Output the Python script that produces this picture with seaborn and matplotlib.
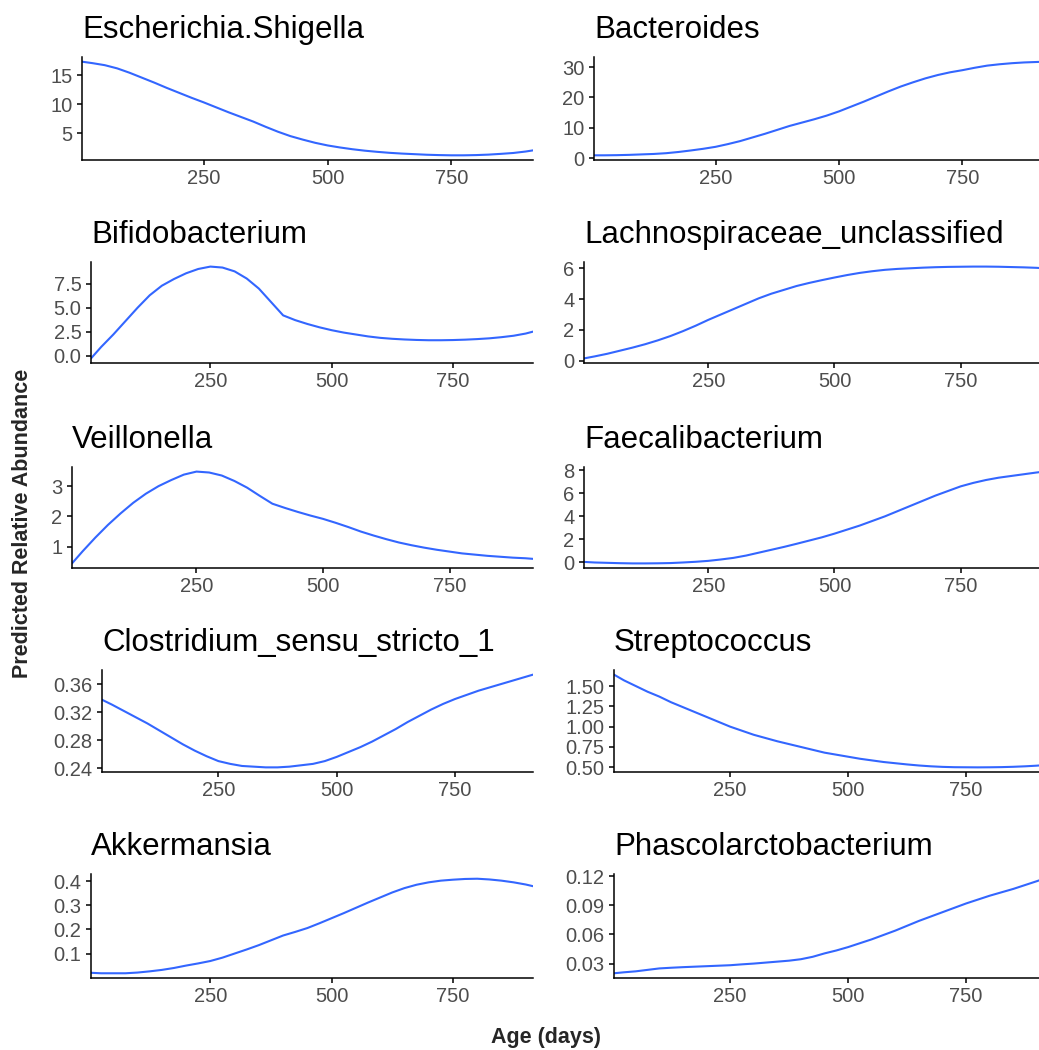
import matplotlib
matplotlib.use("Agg")
from matplotlib import pyplot as plt
import seaborn as sns

# age grid (days) the smoothed predictions were read at
age_days = [4] + list(range(25, 901, 25)) + [915]

escherichia = [17.3, 17.05, 16.7, 16.15, 15.4, 14.55, 13.7, 12.8, 11.95, 11.1, 10.3, 9.45, 8.6, 7.8, 7.0, 6.1,
               5.25, 4.5, 3.9, 3.35, 2.9, 2.55, 2.25, 2.0, 1.8, 1.63, 1.5, 1.4, 1.3, 1.24, 1.2, 1.2,
               1.24, 1.32, 1.45, 1.6, 1.85, 2.05]
bacteroides = [0.9, 0.9, 0.95, 1.05, 1.2, 1.35, 1.6, 2.0, 2.5, 3.05, 3.7, 4.6, 5.6, 6.8, 8.0, 9.3,
               10.6, 11.7, 12.8, 14.0, 15.4, 17.0, 18.6, 20.3, 22.0, 23.6, 25.0, 26.3, 27.4, 28.3, 29.0, 29.8,
               30.5, 30.95, 31.3, 31.55, 31.7, 31.8]
bifidobacterium = [-0.3, 0.9, 2.2, 3.6, 5.0, 6.3, 7.3, 8.0, 8.6, 9.05, 9.3, 9.2, 8.8, 8.05, 7.0, 5.6,
                   4.2, 3.7, 3.3, 2.95, 2.65, 2.4, 2.2, 2.0, 1.85, 1.75, 1.68, 1.63, 1.6, 1.6, 1.62, 1.66,
                   1.72, 1.8, 1.92, 2.07, 2.3, 2.5]
lachnospiraceae = [0.15, 0.28, 0.45, 0.65, 0.85, 1.07, 1.32, 1.6, 1.92, 2.27, 2.65, 3.0, 3.35, 3.7, 4.05, 4.35,
                   4.6, 4.85, 5.05, 5.23, 5.4, 5.56, 5.7, 5.81, 5.9, 5.96, 6.0, 6.04, 6.07, 6.09, 6.1, 6.11,
                   6.11, 6.1, 6.08, 6.06, 6.03, 6.0]
veillonella = [0.45, 0.85, 1.3, 1.72, 2.1, 2.45, 2.75, 3.0, 3.2, 3.38, 3.48, 3.45, 3.35, 3.17, 2.95, 2.68,
               2.42, 2.28, 2.15, 2.03, 1.92, 1.79, 1.65, 1.5, 1.37, 1.25, 1.14, 1.05, 0.97, 0.9, 0.84, 0.78,
               0.74, 0.7, 0.67, 0.64, 0.62, 0.6]
faecalibacterium = [0.05, 0.0, -0.03, -0.06, -0.08, -0.08, -0.07, -0.05, 0.0, 0.06, 0.14, 0.26, 0.4, 0.6, 0.85, 1.1,
                    1.35, 1.62, 1.9, 2.18, 2.5, 2.85, 3.2, 3.6, 4.0, 4.45, 4.9, 5.35, 5.8, 6.2, 6.6, 6.9,
                    7.15, 7.35, 7.5, 7.65, 7.8, 7.88]
clostridium = [0.338, 0.331, 0.322, 0.313, 0.304, 0.294, 0.284, 0.274, 0.265, 0.257, 0.25, 0.246, 0.243, 0.242,
               0.241, 0.241, 0.242, 0.244, 0.246, 0.25, 0.256, 0.263, 0.27, 0.278, 0.287, 0.296, 0.306, 0.315,
               0.324, 0.332, 0.339, 0.345, 0.351, 0.356, 0.361, 0.366, 0.371, 0.374]
streptococcus = [1.64, 1.57, 1.5, 1.43, 1.37, 1.3, 1.24, 1.18, 1.12, 1.06, 1.0, 0.95, 0.9, 0.86, 0.82, 0.785,
                 0.75, 0.715, 0.68, 0.655, 0.63, 0.605, 0.585, 0.565, 0.55, 0.535, 0.522, 0.512, 0.505, 0.501,
                 0.5, 0.499, 0.5, 0.502, 0.506, 0.512, 0.52, 0.527]
akkermansia = [0.02, 0.018, 0.018, 0.018, 0.021, 0.026, 0.032, 0.04, 0.05, 0.059, 0.069, 0.083, 0.1, 0.117,
               0.135, 0.155, 0.175, 0.19, 0.206, 0.226, 0.247, 0.268, 0.29, 0.312, 0.333, 0.354, 0.372, 0.386,
               0.396, 0.403, 0.407, 0.41, 0.411, 0.408, 0.403, 0.396, 0.387, 0.38]
phascolarctobacterium = [0.020, 0.021, 0.022, 0.0235, 0.025, 0.0257, 0.0263, 0.0268, 0.0273, 0.0278, 0.0283,
                         0.0292, 0.030, 0.031, 0.032, 0.033, 0.0345, 0.037, 0.0405, 0.0435, 0.047, 0.051,
                         0.055, 0.0595, 0.064, 0.069, 0.074, 0.0785, 0.083, 0.0875, 0.092, 0.096, 0.100,
                         0.1035, 0.107, 0.111, 0.115, 0.1175]

genera = ["Escherichia.Shigella", "Bacteroides", "Bifidobacterium", "Lachnospiraceae_unclassified",
          "Veillonella", "Faecalibacterium", "Clostridium_sensu_stricto_1", "Streptococcus",
          "Akkermansia", "Phascolarctobacterium"]
series = [escherichia, bacteroides, bifidobacterium, lachnospiraceae, veillonella,
          faecalibacterium, clostridium, streptococcus, akkermansia, phascolarctobacterium]
y_ticks = [[5, 10, 15], [0, 10, 20, 30], [0, 2.5, 5, 7.5], [0, 2, 4, 6], [1, 2, 3],
           [0, 2, 4, 6, 8], [0.24, 0.28, 0.32, 0.36], [0.5, 0.75, 1.0, 1.25, 1.5],
           [0.1, 0.2, 0.3, 0.4], [0.03, 0.06, 0.09, 0.12]]
y_fmt = ["{:.0f}", "{:.0f}", "{:.1f}", "{:.0f}", "{:.0f}",
         "{:.0f}", "{:.2f}", "{:.2f}", "{:.1f}", "{:.2f}"]
x_ticks = [250, 500, 750]

for s in series:
    assert len(s) == len(age_days)

sns.set_style("ticks")
plt.rcParams['font.family'] = ['Liberation Sans', 'DejaVu Sans']

W, H = 1039, 1050
fig = plt.figure(figsize=(W / 100, H / 100), dpi=100)

# panel boxes in pixels: left edge per panel, shared right edge per column, rows top/bottom
lefts = [82, 594, 91, 584, 72, 584, 102, 614, 91, 614]
rights = [533, 1044]
rows = [(57, 160), (262, 363), (467, 568), (670, 772), (874, 978)]

for i, (name, vals) in enumerate(zip(genera, series)):
    r, c = divmod(i, 2)
    top, bot = rows[r]
    x0, x1 = lefts[i], rights[c]
    ax = fig.add_axes([x0 / W, 1 - bot / H, (x1 - x0) / W, (bot - top) / H])
    sns.lineplot(x=age_days, y=vals, ax=ax, color="#3366FF", linewidth=1.5)
    ax.set_xlim(age_days[0], age_days[-1])
    ax.margins(y=0.05)
    ax.set_xticks(x_ticks)
    ax.set_yticks(y_ticks[i])
    ax.set_yticklabels([y_fmt[i].format(v) for v in y_ticks[i]])
    ax.set_title(name, loc="left", fontsize=22.5, pad=14, color="black")
    ax.set_xlabel("")
    ax.set_ylabel("")
    sns.despine(ax=ax)
    for s in ["left", "bottom"]:
        ax.spines[s].set_linewidth(1.1)
        ax.spines[s].set_color("black")
    ax.tick_params(axis="both", labelsize=14.5, labelcolor="#4D4D4D", color="black",
                   length=3.8, width=1.1, pad=3)

fig.text(546 / W, 1 - 1037 / H, "Age (days)", ha="center", va="center",
         fontsize=15.5, fontweight="bold")
fig.text(23 / W, 1 - 523 / H, "Predicted Relative Abundance", ha="center", va="center",
         rotation=90, fontsize=15.5, fontweight="bold")

fig.savefig("out.png", dpi=100)
